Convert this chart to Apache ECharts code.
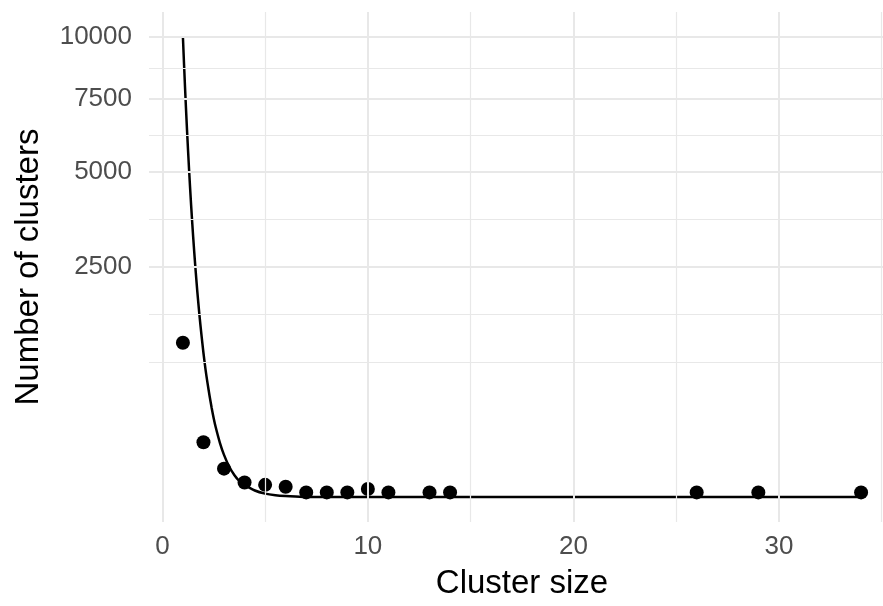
<!DOCTYPE html>
<html>
<head>
<meta charset="utf-8">
<title>Cluster sizes</title>
<script src="https://cdn.jsdelivr.net/npm/echarts@6/dist/echarts.min.js"></script>
<style>
  html, body { margin: 0; padding: 0; background: #fff; }
  #container { width: 883px; height: 606px; }
</style>
</head>
<body>
<div id="container"></div>
<script type="text/javascript">
// observed counts per cluster size
var clusterSize = [1, 2, 3, 4, 5, 6, 7, 8, 9, 10, 11, 13, 14, 26, 29, 34];
var clusterCount = [1124, 142, 38, 10, 7, 5, 1, 1, 1, 3, 1, 1, 1, 1, 1, 1];

// fitted curve
var fitX = [1, 1.1, 1.2, 1.3, 1.4, 1.5, 1.6, 1.7, 1.8, 1.9, 2, 2.1, 2.2, 2.3, 2.4, 2.5, 2.6, 2.8, 3, 3.25, 3.5, 3.75, 4, 4.5, 5, 5.5, 6, 7, 10, 20, 34];
var fitY = [10000, 7980, 6360, 5060, 4020, 3190, 2530, 2000, 1580, 1250, 980, 770, 610, 480, 375, 292, 228, 139, 84, 44, 23, 12, 7, 2, 0.55, 0.16, 0.05, 0, 0, 0, 0];

// axis breaks
var xTicks = [0, 10, 20, 30];
var xMinor = [5, 15, 25, 35];
var yTicks = [2500, 5000, 7500, 10000];

var FONT = '"Liberation Sans", Arial, Helvetica, sans-serif';

// y axis is on a square-root scale, like scale_y_sqrt
function tr(v) { return Math.sqrt(v); }

var yMajor = yTicks.map(tr);
// minor breaks: midpoints in transformed space, plus one step below
var step = yMajor[1] - yMajor[0];
var yExt = [yMajor[0] - step].concat(yMajor);
var yMinor = [yExt[0]];
for (var i = 0; i < yExt.length - 1; i++) {
    yMinor.push((yExt[i] + yExt[i + 1]) / 2);
}

var gridLines = [];
xTicks.forEach(function (v) {
    gridLines.push({ xAxis: v, lineStyle: { color: '#E8E8E8', width: 2, type: 'solid' } });
});
xMinor.forEach(function (v) {
    gridLines.push({ xAxis: v, lineStyle: { color: '#E8E8E8', width: 1.2, type: 'solid' } });
});
yMajor.forEach(function (v) {
    gridLines.push({ yAxis: v, lineStyle: { color: '#E8E8E8', width: 2, type: 'solid' } });
});
yMinor.forEach(function (v) {
    gridLines.push({ yAxis: v, lineStyle: { color: '#E8E8E8', width: 1.2, type: 'solid' } });
});

var myChart = echarts.init(document.getElementById('container'), null, { renderer: 'canvas' });

var option = {
    animation: false,
    backgroundColor: '#ffffff',
    // panel runs a little past the right edge of the picture
    grid: { left: 149, width: 746, top: 12, bottom: 84, outerBoundsMode: 'none', containLabel: false },
    xAxis: {
        type: 'value',
        min: -0.65,
        max: 35.65,
        name: 'Cluster size',
        nameLocation: 'middle',
        nameGap: 45,
        nameTextStyle: { fontFamily: FONT, fontSize: 33, color: '#000' },
        axisLine: { show: false },
        axisTick: { show: false },
        splitLine: { show: false },
        axisLabel: {
            customValues: xTicks,
            margin: 12,
            fontFamily: FONT,
            fontSize: 26,
            color: '#4D4D4D'
        }
    },
    yAxis: {
        type: 'value',
        min: -5.43,
        max: 105.43,
        name: 'Number of clusters',
        nameLocation: 'middle',
        nameRotate: 90,
        nameGap: 104,
        nameTextStyle: { fontFamily: FONT, fontSize: 33, color: '#000' },
        axisLine: { show: false },
        axisTick: { show: false },
        splitLine: { show: false },
        axisLabel: {
            customValues: yMajor,
            margin: 17,
            fontFamily: FONT,
            fontSize: 26,
            color: '#4D4D4D',
            formatter: function (v) { return String(Math.round(v * v / 100) * 100); }
        }
    },
    series: [
        {
            type: 'line',
            data: [],
            z: 1,
            silent: true,
            markLine: {
                silent: true,
                symbol: ['none', 'none'],
                label: { show: false },
                emphasis: { disabled: true },
                animation: false,
                data: gridLines
            }
        },
        {
            type: 'line',
            z: 3,
            data: fitX.map(function (x, i) { return [x, tr(fitY[i])]; }),
            smooth: 0.3,
            showSymbol: false,
            lineStyle: { color: '#000', width: 2.5 }
        },
        {
            type: 'scatter',
            z: 4,
            data: clusterSize.map(function (x, i) { return [x, tr(clusterCount[i])]; }),
            symbolSize: 14,
            itemStyle: { color: '#000', opacity: 1 }
        }
    ]
};

myChart.setOption(option);
</script>
</body>
</html>
